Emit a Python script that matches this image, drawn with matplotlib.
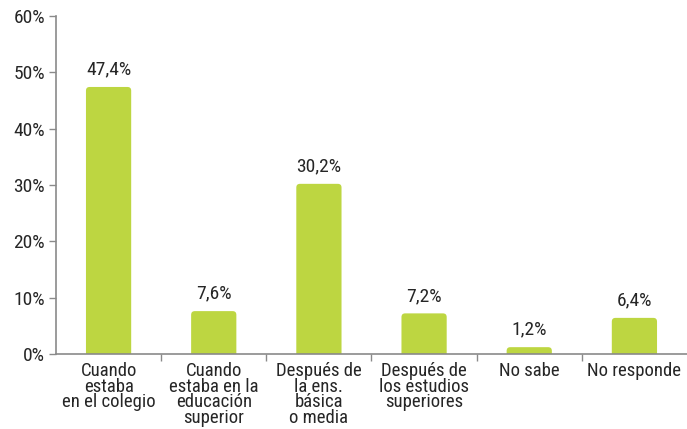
import matplotlib.pyplot as plt
from matplotlib.patches import FancyBboxPatch
from matplotlib.ticker import FuncFormatter
import numpy as np

categories = ["Cuando\nestaba\nen el colegio",
              "Cuando\nestaba en la\neducación\nsuperior",
              "Después de\nla ens.\nbásica\no media",
              "Después de\nlos estudios\nsuperiores",
              "No sabe",
              "No responde"]
values = [47.4, 7.6, 30.2, 7.2, 1.2, 6.4]
value_labels = ["47,4%", "7,6%", "30,2%", "7,2%", "1,2%", "6,4%"]

green = "#bdd641"
txt = "#262626"
axis_col = "#8a8a8a"

plt.rcParams['font.family'] = ['Roboto Condensed', 'DejaVu Sans']

fig = plt.figure(figsize=(6.87, 4.29), dpi=100)
ax = fig.add_axes([0.0815, 0.175, 0.9185, 0.7877])

x = np.arange(len(values))
ax.set_xlim(-0.5, len(values) - 0.5)
ax.set_ylim(0, 60)

# rounded bars: rounding in x units, aspect converts to y units
w = 0.43
r = 0.035
bbox = ax.get_window_extent()
px_x = bbox.width / len(values)
px_y = bbox.height / 60
aspect = px_x / px_y
for xi, v, lab in zip(x, values, value_labels):
    p = FancyBboxPatch((xi - w / 2, -2), w, v + 2,
                       boxstyle=f"round,pad=0,rounding_size={r}",
                       mutation_aspect=aspect,
                       facecolor=green, edgecolor="none", clip_on=True)
    ax.add_patch(p)
    ax.annotate(lab, (xi, v), xytext=(0, 6), textcoords="offset points",
                ha="center", va="bottom", fontsize=14, color=txt)

ax.set_yticks(np.arange(0, 61, 10))
ax.yaxis.set_major_formatter(FuncFormatter(lambda v, _: f"{int(v)}%"))
ax.tick_params(axis="y", labelsize=14, colors=txt, length=5, width=1, color=axis_col, pad=3)

# category boundaries as x ticks, labels as minor ticks
ax.set_xticks(np.arange(0.5, len(values) - 0.5, 1))
ax.set_xticklabels([])
ax.tick_params(axis="x", which="major", length=5, width=1, color=axis_col)
ax.set_xticks(x, minor=True)
ax.set_xticklabels(categories, minor=True, fontsize=13.5, color=txt, linespacing=0.83)
ax.tick_params(axis="x", which="minor", length=0, pad=6)

for s in ["top", "right"]:
    ax.spines[s].set_visible(False)
for s in ["left", "bottom"]:
    ax.spines[s].set_color(axis_col)
    ax.spines[s].set_linewidth(1.2)

fig.savefig("out.png", dpi=100)
